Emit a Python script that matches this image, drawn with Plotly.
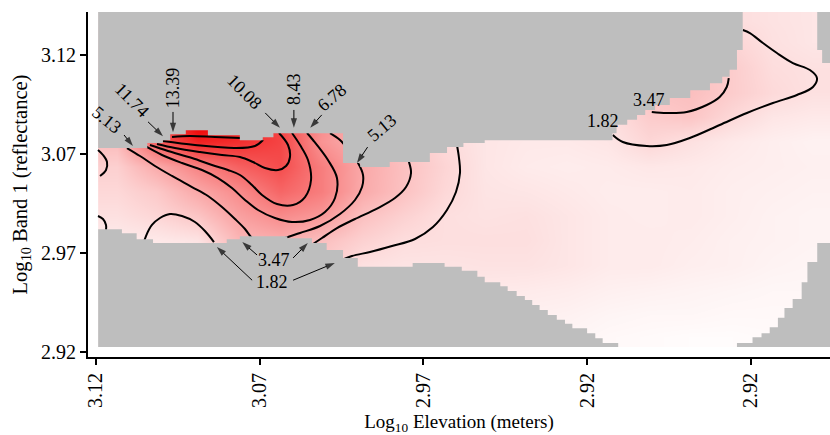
import plotly.graph_objects as go

# ---------------- axes (raster cell units: 20 cells per labelled step) ----------------
x_tick_pos = [0, 20, 40, 60, 80]
x_tick_labels = ["3.12", "3.07", "2.97", "2.92", "2.92"]
y_tick_pos = [0, 20, 40, 60]
y_tick_labels = ["2.92", "2.97", "3.07", "3.12"]

# ---------------- response surface (coarse grid) ----------------
grid_x_edges = [0.3, 5, 10, 15, 20, 25, 30, 35, 40, 45, 50, 55, 60, 65, 70, 75, 80, 85, 89.7]
grid_y_edges = [1.0, 5, 10, 15, 20, 25, 30, 35, 40, 45, 50, 55, 60, 65, 68.7]
surface = [
    [0.8, 0.9, 1.0, 1.2, 1.3, 1.3, 1.2, 1.1, 1.0, 0.9, 0.8, 0.6, 0.4, 0.3, 0.2, 0.2, 0.3, 0.4],
    [0.9, 1.0, 1.1, 1.3, 1.5, 1.4, 1.3, 1.2, 1.1, 1.0, 0.9, 0.8, 0.6, 0.5, 0.5, 0.4, 0.4, 0.4],
    [1.0, 1.1, 1.3, 1.8, 2.2, 1.9, 1.6, 1.4, 1.3, 1.3, 1.2, 1.1, 0.9, 0.8, 0.7, 0.6, 0.5, 0.5],
    [1.0, 1.1, 1.5, 2.8, 3.5, 3.0, 1.8, 1.6, 1.6, 1.7, 1.7, 1.5, 1.2, 1.2, 1.0, 0.9, 0.7, 0.6],
    [1.2, 1.3, 1.6, 4.3, 4.8, 3.8, 2.7, 2.0, 1.9, 1.9, 1.9, 1.5, 1.2, 1.2, 1.1, 0.9, 0.8, 0.7],
    [1.8, 2.4, 3.4, 5.5, 6.8, 6.0, 3.7, 2.7, 1.9, 1.7, 1.8, 1.5, 1.2, 1.1, 1.2, 1.0, 0.8, 0.7],
    [2.3, 3.2, 5.1, 6.8, 9.0, 7.6, 5.0, 3.6, 2.3, 1.6, 1.5, 1.3, 1.1, 1.1, 1.2, 1.0, 0.9, 0.8],
    [2.8, 5.0, 7.3, 9.3, 10.5, 7.6, 5.1, 3.7, 2.5, 1.5, 1.2, 1.1, 1.2, 1.4, 1.3, 1.1, 1.0, 0.9],
    [4.0, 9.5, 13.0, 12.3, 11.0, 6.3, 4.5, 3.5, 2.2, 1.5, 1.3, 1.3, 1.5, 2.4, 1.8, 1.3, 1.0, 0.8],
    [4.0, 10.0, 16.0, 14.0, 11.0, 7.0, 4.5, 3.5, 2.5, 1.8, 1.5, 1.5, 1.8, 3.0, 3.4, 2.3, 1.5, 1.3],
    [3.5, 8.0, 12.0, 11.0, 9.0, 6.0, 4.0, 3.0, 2.3, 1.8, 1.6, 1.6, 2.0, 3.5, 3.8, 3.0, 2.2, 1.8],
    [3.0, 6.0, 9.0, 8.0, 6.0, 4.0, 3.0, 2.5, 2.0, 1.8, 1.7, 1.7, 2.0, 3.0, 3.5, 3.0, 2.0, 1.8],
    [2.5, 4.0, 6.0, 5.0, 4.0, 3.0, 2.5, 2.0, 1.8, 1.7, 1.6, 1.6, 1.8, 2.5, 2.8, 2.5, 1.8, 1.5],
    [2.0, 3.0, 4.0, 3.5, 3.0, 2.5, 2.0, 1.8, 1.7, 1.6, 1.5, 1.5, 1.7, 2.0, 2.2, 2.0, 1.7, 1.5],
]

# ---------------- no-data mask (staircase outline of the raster) ----------------
top_mask_edges = [0.3, 6.3, 8.2, 9.1, 11.0, 13.7, 17.6, 20.4, 21.7, 30.2, 32.3, 35.9, 40.8, 42.9,
                  44.9, 47.5, 63.1, 63.6, 64.9, 66.1, 67.1, 68.3, 70.1, 72.6, 75.0, 76.5, 77.4, 78.3, 79.0]
top_mask_rows = [41.2, 42.2, 42.8, 44.0, 44.8, 43.8, 42.8, 43.4, 44.2, 38.2, 37.4, 38.4, 40.2, 41.4,
                 42.2, 42.8, 44.2, 45.9, 46.9, 47.9, 48.9, 49.9, 51.3, 52.9, 54.3, 55.6, 57.0, 61.0]
topright_mask_edges = [88.1, 88.7, 90.5]
topright_mask_rows = [61.0, 58.4]
bottom_mask_edges = [0.3, 3.2, 5.0, 7.0, 16.0, 17.6, 23.4, 26.4, 28.2, 30.2, 32.0, 38.7, 42.6, 44.7, 46.6,
                     47.5, 49.4, 50.3, 51.4, 52.4, 53.3, 54.2, 55.2, 56.3, 57.3, 58.2, 60.0, 61.0, 61.9, 63.8]
bottom_mask_rows = [24.8, 24.0, 22.8, 22.0, 22.8, 23.4, 23.0, 22.0, 20.6, 19.0, 17.2, 18.0, 17.2, 16.4,
                    15.2, 14.1, 13.3, 12.3, 11.3, 10.5, 9.5, 8.5, 7.5, 6.5, 5.7, 4.8, 3.8, 2.8, 1.8]
bottomright_mask_edges = [78.3, 80.2, 81.3, 82.3, 83.3, 84.1, 85.1, 86.2, 86.9, 88.1, 90.5]
bottomright_mask_rows = [1.8, 3.0, 3.8, 5.0, 6.9, 8.9, 10.7, 14.1, 18.2, 22.0]

# ---------------- isolines ----------------
iso_1339_x = [9.32, 11.51, 14.57, 17.62]
iso_1339_y = [43.43, 43.64, 43.43, 43.23]
iso_1174_x = [8.22, 12.12, 17.01, 19.45, 20.43]
iso_1174_y = [42.63, 41.82, 41.21, 41.62, 42.83]
iso_1008_x = [7.48, 9.68, 12.73, 15.42, 17.62, 19.21, 20.67, 22.26, 23.24, 23.72, 23.48, 22.38]
iso_1008_y = [42.02, 41.21, 40.40, 39.80, 39.39, 38.38, 37.17, 36.77, 37.58, 39.39, 41.82, 44.24]
iso_843_x = [6.62, 8.83, 11.76, 14.20, 16.15, 17.62, 19.08, 20.31, 22.14, 24.09, 25.56, 26.29, 25.92, 24.95, 23.97]
iso_843_y = [41.82, 40.61, 39.19, 37.78, 36.77, 35.76, 33.74, 31.72, 29.90, 29.70, 31.31, 34.75, 38.79, 41.82, 44.24]
iso_678_x = [6.02, 8.10, 10.54, 12.98, 14.93, 16.64, 18.23, 19.82, 21.89, 23.97, 26.17, 28.00, 29.22, 29.46,
             28.36, 26.53, 25.80]
iso_678_y = [41.62, 39.80, 38.18, 36.77, 35.15, 33.13, 30.71, 28.69, 27.07, 26.26, 26.67, 28.28, 31.11, 35.15,
             38.79, 42.83, 44.24]
iso_513_x = [3.82, 5.41, 7.24, 9.32, 11.76, 13.71, 15.42, 17.01, 18.23, 19.08, 20.06, 21.04, 23.11, 24.95,
             27.39, 29.83, 31.66, 32.52, 32.64, 32.03, 31.05, 29.83, 28.61]
iso_513_y = [41.21, 39.60, 37.58, 35.56, 33.33, 31.52, 29.29, 26.87, 24.85, 23.03, 22.02, 21.62, 23.03, 24.04,
             25.45, 27.88, 30.71, 33.33, 35.76, 38.18, 40.40, 42.83, 44.24]
iso_347_x = [26.17, 27.63, 29.46, 31.66, 34.47, 36.54, 37.89, 38.50, 38.25, 37.89]
iso_347_y = [21.41, 23.03, 25.05, 26.87, 29.09, 31.11, 33.33, 36.16, 38.38, 39.80]
iso_182_x = [29.58, 31.29, 33.49, 36.18, 38.99, 41.18, 42.89, 43.99, 44.48, 44.36, 44.11]
iso_182_y = [18.18, 19.39, 20.20, 21.41, 22.83, 25.25, 28.69, 32.32, 36.16, 39.19, 41.82]
iso_182_low_x = [5.78, 6.14, 6.87, 7.85, 9.07, 10.54, 12.12, 13.34, 14.44]
iso_182_low_y = [21.62, 23.43, 25.66, 27.07, 27.88, 27.47, 26.26, 24.44, 22.22]
iso_edge_a_x = [0.28, 0.89, 1.38, 1.26, 0.53]
iso_edge_a_y = [40.81, 39.80, 38.38, 36.77, 35.56]
iso_edge_b_x = [0.28, 0.89, 1.26, 1.26]
iso_edge_b_y = [27.47, 26.87, 25.66, 24.65]
iso_182_ne_x = [63.14, 64.36, 67.29, 69.73, 72.54, 76.19, 79.51, 82.69, 85.62, 87.58, 88.07, 87.21, 85.13,
                83.18, 81.47, 79.88, 79.02]
iso_182_ne_y = [43.84, 42.42, 41.62, 41.82, 43.23, 45.86, 48.28, 50.30, 51.92, 53.54, 55.35, 56.97, 58.38,
                60.40, 62.42, 64.44, 65.05]
iso_347_ne_x = [67.90, 69.73, 72.17, 74.61, 76.19, 77.05, 77.30]
iso_347_ne_y = [48.48, 48.28, 48.48, 49.90, 51.52, 53.54, 55.35]

# ---------------- level labels ----------------
label_text = ["5.13", "11.74", "13.39", "10.08", "8.43", "6.78", "5.13", "3.47", "1.82", "3.47", "1.82"]
label_x = [1.38, 4.43, 9.44, 18.2, 24.2, 28.9, 34.9, 21.8, 21.5, 67.6, 61.9]
label_y = [46.9, 50.9, 53.3, 52.5, 53.1, 51.5, 45.3, 18.6, 14.1, 50.9, 46.7]
label_angle = [39, 45, -90, 45, -90, -40, -40, 0, 0, 0, 0]
arrow_tail_x = [3.46, 6.39, 9.44, 20.7, 24.2, 27.6, 33.2, 19.7, 24.1, 19.1, 24.1]
arrow_tail_y = [43.84, 46.5, 48.5, 48.3, 48.9, 47.9, 41.4, 19.6, 19.0, 14.5, 14.5]
arrow_tip_x = [4.55, 8.22, 9.44, 22.5, 24.2, 26.2, 31.9, 17.9, 25.9, 14.8, 29.2]
arrow_tip_y = [41.62, 43.6, 44.4, 45.3, 45.3, 45.3, 38.2, 22.2, 22.0, 21.2, 18.0]

GRAY = "#bebebe"
FONT = "Liberation Serif"

fig = go.Figure()

fig.add_trace(go.Heatmap(
    x=grid_x_edges, y=grid_y_edges, z=surface, zsmooth="best",
    zmin=0, zmax=15, colorscale=[[0, "#ffffff"], [1, "#f00000"]],
    showscale=False, hoverinfo="skip"))

isolines = [
    (iso_1339_x, iso_1339_y), (iso_1174_x, iso_1174_y), (iso_1008_x, iso_1008_y),
    (iso_843_x, iso_843_y), (iso_678_x, iso_678_y), (iso_513_x, iso_513_y),
    (iso_347_x, iso_347_y), (iso_182_x, iso_182_y), (iso_182_low_x, iso_182_low_y),
    (iso_edge_a_x, iso_edge_a_y), (iso_edge_b_x, iso_edge_b_y),
    (iso_182_ne_x, iso_182_ne_y), (iso_347_ne_x, iso_347_ne_y),
]
for xs, ys in isolines:
    fig.add_trace(go.Scatter(x=xs, y=ys, mode="lines",
                             line=dict(color="black", width=2, shape="spline", smoothing=1.0),
                             hoverinfo="skip", showlegend=False))


def step_polygon(edges, levels, base):
    xs, ys = [edges[0]], [base]
    for i, lev in enumerate(levels):
        xs += [edges[i], edges[i + 1]]
        ys += [lev, lev]
    xs.append(edges[-1])
    ys.append(base)
    return xs, ys


for edges, levels, base in [
    (top_mask_edges, top_mask_rows, 72),
    (topright_mask_edges, topright_mask_rows, 72),
    (bottom_mask_edges, bottom_mask_rows, grid_y_edges[0]),
    (bottomright_mask_edges, bottomright_mask_rows, grid_y_edges[0]),
]:
    px, py = step_polygon(edges, levels, base)
    fig.add_trace(go.Scatter(x=px, y=py, mode="lines", fill="toself", fillcolor=GRAY,
                             line=dict(width=0, color=GRAY), hoverinfo="skip", showlegend=False))

# leader arrows (line + arrow marker oriented along the segment)
for i in range(len(arrow_tip_x)):
    fig.add_trace(go.Scatter(
        x=[arrow_tail_x[i], arrow_tip_x[i]], y=[arrow_tail_y[i], arrow_tip_y[i]],
        mode="lines+markers", line=dict(color="black", width=1),
        marker=dict(symbol=["circle", "arrow"], size=[0, 10], angleref="previous",
                    color="black", line=dict(width=0)),
        hoverinfo="skip", showlegend=False))

for t, x, y, a in zip(label_text, label_x, label_y, label_angle):
    fig.add_annotation(x=x, y=y, xref="x", yref="y", text=t, showarrow=False, textangle=a,
                       font=dict(family=FONT, size=18, color="black"))

fig.update_layout(
    width=830, height=435, margin=dict(l=88, r=0, t=12, b=78),
    paper_bgcolor="white", plot_bgcolor="white", showlegend=False,
    font=dict(family=FONT, size=19, color="black"),
    xaxis=dict(range=[-0.94, 89.66], tickvals=x_tick_pos, ticktext=x_tick_labels, tickangle=-90,
               ticks="outside", ticklen=6, tickwidth=1.5, tickcolor="black",
               tickfont=dict(family=FONT, size=20, color="black"),
               showline=True, linewidth=2, linecolor="black", showgrid=False, zeroline=False,
               title=dict(text="Log<sub>10</sub> Elevation (meters)", standoff=9,
                          font=dict(family=FONT, size=19, color="black"))),
    yaxis=dict(range=[-1.01, 68.69], tickvals=y_tick_pos, ticktext=y_tick_labels,
               ticks="outside", ticklen=6, tickwidth=1.5, tickcolor="black",
               tickfont=dict(family=FONT, size=20, color="black"),
               showline=True, linewidth=2, linecolor="black", showgrid=False, zeroline=False,
               title=dict(text="Log<sub>10</sub> Band 1 (reflectance)", standoff=8,
                          font=dict(family=FONT, size=20.5, color="black"))),
)

fig.write_html("out.html")
